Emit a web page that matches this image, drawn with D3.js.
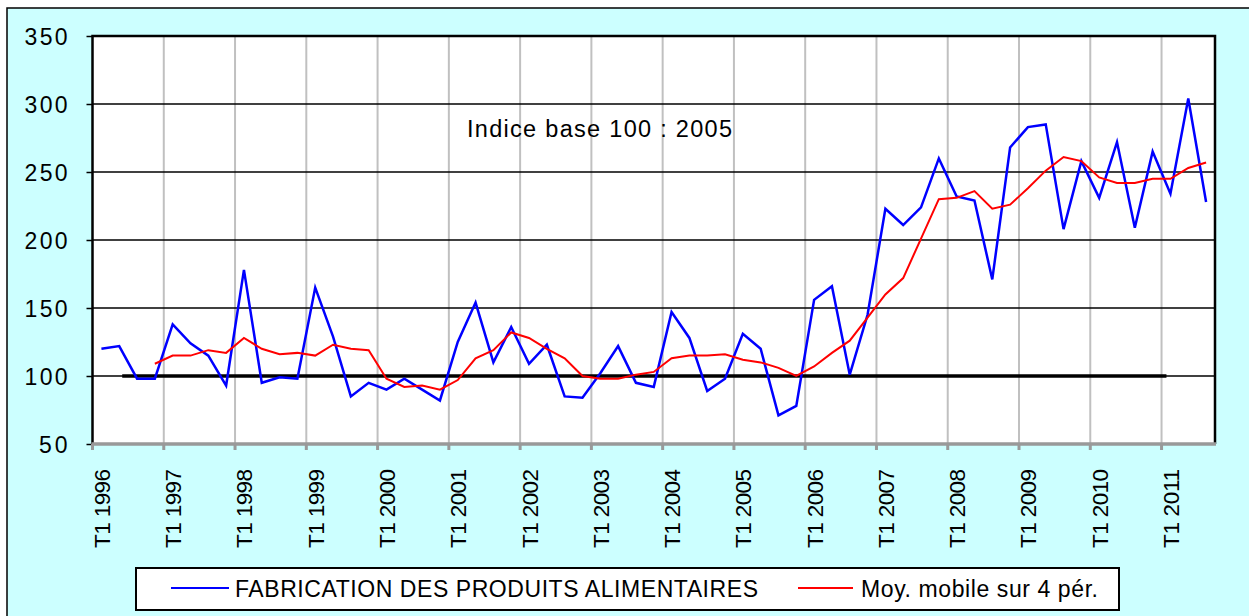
<!DOCTYPE html>
<html lang="fr">
<head>
<meta charset="UTF-8">
<title>Fabrication des produits alimentaires</title>
<style>
    body { margin: 0; background: #fff; }
    svg text { font-family: Arial, "Liberation Sans", sans-serif; fill: #000; }
</style>
</head>
<body>
<svg id="chart" width="1249" height="616"></svg>
<script src="https://d3js.org/d3.v7.min.js"></script>
<script>
// Quarters T1 1996 .. T3 2011
const years = d3.range(1996, 2012);
const quarterNames = ["T1", "T2", "T3", "T4"];
const categories = [];
years.forEach(y => quarterNames.forEach(q => categories.push(q + " " + y)));
categories.length = 63;

// Series
const fabrication = [120, 122, 98, 98, 138, 124, 115, 93, 178, 95,
    99, 98, 165, 129, 85, 95, 90, 98, 90, 82,
    125, 154, 110, 136, 109, 123, 85, 84, 102, 122,
    95, 92, 147, 128, 89, 98, 131, 120, 71, 78,
    156, 166, 101, 145, 223, 211, 224, 260, 232, 229,
    171, 268, 283, 285, 208, 258, 231, 272, 209, 265,
    234, 304, 228];

const moyMobile = [null, null, null, 109, 115, 115, 119, 117, 128, 120,
    116, 117, 115, 123, 120, 119, 98, 92, 93, 90,
    97, 113, 119, 132, 128, 120, 113, 100, 98, 98,
    101, 103, 113, 115, 115, 116, 112, 110, 106, 100,
    107, 117, 126, 143, 160, 172, 201, 230, 231, 236,
    223, 226, 238, 251, 261, 258, 246, 242, 242, 245,
    245, 253, 257];

// Base 100 reference line
const baseValue = 100;
const baseFrom = "T2 1996";
const baseTo = "T1 2011";

const yTicks = [50, 100, 150, 200, 250, 300, 350];
const seriesNames = ["FABRICATION DES PRODUITS ALIMENTAIRES", "Moy. mobile sur 4 pér."];
const note = "Indice base 100 : 2005";

const svg = d3.select("#chart");

// Outer frame
svg.append("rect")
    .attr("x", 7).attr("y", 8)
    .attr("width", 1260).attr("height", 620)
    .attr("fill", "#ccffff")
    .attr("stroke", "#000")
    .attr("stroke-width", 1.5);

const plotLeft = 92.5, plotRight = 1215, plotTop = 36, plotBottom = 444;

const x = d3.scaleBand().domain(categories).range([plotLeft, plotRight]).padding(0);
const y = d3.scaleLinear().domain([50, 350]).range([plotBottom, plotTop]);
const cx = d => x(d) + x.bandwidth() / 2;

// Plot area
svg.append("rect")
    .attr("x", plotLeft).attr("y", plotTop)
    .attr("width", plotRight - plotLeft).attr("height", plotBottom - plotTop)
    .attr("fill", "#fff");

// Vertical gridlines at year boundaries
const yearStarts = categories.filter(c => c.startsWith("T1"));
svg.append("g")
    .selectAll("line")
    .data(yearStarts.slice(1))
    .join("line")
    .attr("x1", d => x(d)).attr("x2", d => x(d))
    .attr("y1", plotTop).attr("y2", plotBottom)
    .attr("stroke", "#c0c0c0")
    .attr("stroke-width", 2);

// Horizontal gridlines
svg.append("g")
    .selectAll("line")
    .data(yTicks.filter(v => v > 50 && v < 350))
    .join("line")
    .attr("x1", plotLeft).attr("x2", plotRight)
    .attr("y1", d => y(d)).attr("y2", d => y(d))
    .attr("stroke", "#000")
    .attr("stroke-width", 1.5);

// Y axis
const yAxis = svg.append("g")
    .attr("transform", `translate(${plotLeft},0)`)
    .call(d3.axisLeft(y).tickValues(yTicks).tickSize(6).tickPadding(19).tickFormat(d3.format("d")));
yAxis.select(".domain").remove();
yAxis.selectAll(".tick line").attr("stroke", "#000").attr("stroke-width", 1.5);
yAxis.selectAll(".tick text")
    .attr("font-size", 23)
    .attr("font-family", "Arial, 'Liberation Sans', sans-serif")
    .attr("textLength", d => String(d).length * 14.3)
    .attr("lengthAdjust", "spacing")
    .attr("dy", "0.36em");

// X axis ticks at year boundaries
svg.append("g")
    .selectAll("line")
    .data(yearStarts)
    .join("line")
    .attr("x1", d => x(d)).attr("x2", d => x(d))
    .attr("y1", plotBottom).attr("y2", plotBottom + 6)
    .attr("stroke", "#999")
    .attr("stroke-width", 3);

// X labels, rotated
svg.append("g")
    .selectAll("text")
    .data(yearStarts)
    .join("text")
    .attr("transform", d => `translate(${cx(d) + 8.5},469) rotate(-90)`)
    .attr("text-anchor", "end")
    .attr("font-size", 22.5)
    .attr("textLength", 79)
    .attr("lengthAdjust", "spacing")
    .text(d => d);

// Frame of plot area
svg.append("path")
    .attr("d", `M${plotLeft},${plotBottom}V${plotTop}H${plotRight}V${plotBottom}`)
    .attr("fill", "none")
    .attr("stroke", "#000")
    .attr("stroke-width", 2.5);
svg.append("line")
    .attr("x1", plotLeft - 1).attr("x2", plotRight + 1)
    .attr("y1", plotBottom).attr("y2", plotBottom)
    .attr("stroke", "#999")
    .attr("stroke-width", 3.5);

// Base 100 line
const baseIdx = [categories.indexOf(baseFrom), categories.indexOf(baseTo)];
svg.append("line")
    .attr("x1", cx(categories[baseIdx[0]]) + 3).attr("x2", cx(categories[baseIdx[1]]) - 4)
    .attr("y1", y(baseValue)).attr("y2", y(baseValue))
    .attr("stroke", "#000")
    .attr("stroke-width", 3.5);

const line = d3.line()
    .defined(d => d.v != null)
    .x(d => cx(d.c))
    .y(d => y(d.v));

svg.append("path")
    .datum(categories.map((c, i) => ({ c, v: fabrication[i] })))
    .attr("d", line)
    .attr("fill", "none")
    .attr("stroke", "#0000ff")
    .attr("stroke-width", 2.5)
    .attr("stroke-linejoin", "miter");

svg.append("path")
    .datum(categories.map((c, i) => ({ c, v: moyMobile[i] })))
    .attr("d", line)
    .attr("fill", "none")
    .attr("stroke", "#ff0000")
    .attr("stroke-width", 2);

// Note
svg.append("text")
    .attr("x", 467).attr("y", 137)
    .attr("font-size", 23.5)
    .attr("textLength", 265)
    .attr("lengthAdjust", "spacing")
    .text(note);

// Legend
const legend = svg.append("g");
legend.append("rect")
    .attr("x", 136).attr("y", 568)
    .attr("width", 983).attr("height", 42)
    .attr("fill", "#fff")
    .attr("stroke", "#000")
    .attr("stroke-width", 2);

const legendItems = [
    { name: seriesNames[0], color: "#0000ff", x0: 171, x1: 229, tx: 235, tw: 523 },
    { name: seriesNames[1], color: "#ff0000", x0: 798, x1: 853, tx: 861, tw: 237 }
];
legendItems.forEach(it => {
    legend.append("line")
        .attr("x1", it.x0).attr("x2", it.x1)
        .attr("y1", 588).attr("y2", 588)
        .attr("stroke", it.color)
        .attr("stroke-width", 2);
    legend.append("text")
        .attr("x", it.tx).attr("y", 597)
        .attr("font-size", 23)
        .attr("textLength", it.tw)
        .attr("lengthAdjust", "spacing")
        .text(it.name);
});
</script>
</body>
</html>
